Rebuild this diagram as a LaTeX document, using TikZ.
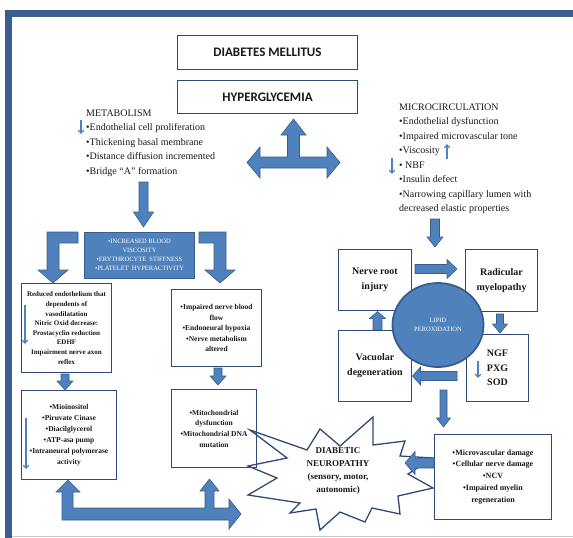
\documentclass[tikz,border=0pt]{standalone}
\usepackage{fontspec}
\setmainfont{Liberation Serif}
\newfontfamily\carlito{Carlito}
\usetikzlibrary{calc,arrows.meta,shapes.geometric}
\definecolor{boxc}{RGB}{47,74,120}
\definecolor{afill}{RGB}{79,129,189}
\definecolor{aedge}{RGB}{56,93,138}
\definecolor{framec}{RGB}{58,94,143}
\definecolor{txt}{RGB}{25,25,25}
\tikzset{
 box/.style={draw=boxc, line width=1.3pt, fill=white, inner sep=1pt, align=center, text=txt},
 titlebox/.style={box, font=\carlito\bfseries\fontsize{13}{15}\selectfont},
 smallbox/.style={box, font=\bfseries\fontsize{7.5}{10.6}\selectfont},
 midbox/.style={box, font=\bfseries\fontsize{10}{15}\selectfont},
 bluebox/.style={draw=aedge, fill=afill, line width=1pt, text=white, align=center, inner sep=1pt},
 blockarrow/.style={fill=afill, draw=aedge, line width=0.6pt, line join=miter},
 thinarrow/.style={draw=afill, line width=1.1pt, -{Straight Barb[length=3pt,width=5.5pt]}},
 plaintext/.style={inner sep=0pt, align=left, text=txt, font=\fontsize{10}{14.45}\selectfont},
}
\newcommand\barrow[5]{%
 \coordinate (bacA) at #1; \coordinate (bacB) at #2;
 \coordinate (bacC) at ($(bacB)!#5!(bacA)$);
 \filldraw[blockarrow] ($(bacA)!#3!90:(bacB)$) -- ($(bacC)!#3!90:(bacB)$) -- ($(bacC)!#4!90:(bacB)$) -- (bacB) -- ($(bacC)!#4!-90:(bacB)$) -- ($(bacC)!#3!-90:(bacB)$) -- ($(bacA)!#3!-90:(bacB)$) -- cycle;
}
\begin{document}
\begin{tikzpicture}[x=1pt,y=-1pt]
\useasboundingbox (0,0) rectangle (573,538);
% frame
\draw[framec, line width=7pt] (8.5,538) -- (8.5,13.5) -- (573,13.5);
\draw[gray!40, line width=1.5pt] (12,536.5) -- (573,536.5);

% title boxes
\node[titlebox, minimum width=180pt, minimum height=34pt] (dm) at (267.5,52.5) {DIABETES MELLITUS};
\node[titlebox, minimum width=180pt, minimum height=33pt] (hyp) at (267.5,97) {HYPERGLYCEMIA};

% text blocks
\node[plaintext, anchor=north west] (metab) at (86,109.5) {METABOLISM\\•Endothelial cell proliferation\\•Thickening basal membrane\\•Distance diffusion incremented\\•Bridge “A” formation};
\node[plaintext, anchor=north west] (micro) at (399,103.5) {MICROCIRCULATION\\•Endothelial dysfunction\\•Impaired microvascular tone\\•Viscosity\\• NBF\\•Insulin defect\\•Narrowing capillary lumen with\\decreased elastic properties};
\draw[thinarrow] (81,120) -- (81,134);
\draw[thinarrow] (447,159) -- (447,144);
\draw[thinarrow] (392,158) -- (392,174);

% T arrow
\filldraw[blockarrow] (293.5,119) -- (306,135) -- (299.5,135) -- (299.5,157) -- (327,157) -- (327,147) -- (340,162.5) -- (327,178) -- (327,168) -- (260,168) -- (260,178) -- (247,162.5) -- (260,147) -- (260,157) -- (287.5,157) -- (287.5,135) -- (281,135) -- cycle;

% metabolism down arrow
\barrow{(143.5,182)}{(143.5,227)}{4.5pt}{10pt}{15pt}

% central blue box
\node[bluebox, minimum width=110pt, minimum height=46pt, font=\fontsize{6.5}{9}\selectfont] (vis) at (139.5,255) {•INCREASED BLOOD\\VISCOSITY\\•ERYTHROCYTE\ \ STIFFNESS\\•PLATELET\ \ HYPERACTIVITY};

% bent arrows
\filldraw[blockarrow] (78,232) -- (47,232) -- (47,270) -- (38,270) -- (53,283) -- (68,270) -- (59,270) -- (59,243) -- (78,243) -- cycle;
\filldraw[blockarrow] (199,232) -- (226,232) -- (226,270) -- (235,270) -- (220,283) -- (205,270) -- (214,270) -- (214,243) -- (199,243) -- cycle;

% left column
\node[smallbox, minimum width=90pt, minimum height=89pt, font=\bfseries\fontsize{7}{9.6}\selectfont] (lb1) at (66.5,328) {Reduced endothelium that\\dependents of\\vasodilatation\\Nitric Oxid decrease:\\Prostacyclin reduction\\EDHF\\Impairment nerve axon\\reflex};
\draw[thinarrow] (25,305) -- (25,344);
\node[smallbox, minimum width=90pt, minimum height=77pt, font=\bfseries\fontsize{7.5}{10.5}\selectfont] (rb1) at (216.5,328) {•Impaired nerve blood\\flow\\•Endoneural hypoxia\\•Nerve metabolism\\altered};
\barrow{(65,374)}{(65,390)}{4pt}{8pt}{9pt}
\barrow{(218,368)}{(218,385)}{4pt}{8pt}{9pt}

% diabetic neuropathy star
\filldraw[fill=white, draw=boxc, line width=1.3pt, line join=miter] (250,430) -- (307,450) -- (320,429) -- (340,446) -- (373,417) -- (373,445) -- (405,441) -- (400,456) -- (433,458) -- (408,474) -- (433,488) -- (398,496) -- (400,514) -- (372,508) -- (365,522) -- (340,512) -- (320,530) -- (316,509) -- (290,513) -- (300,503) -- (248,495) -- (277,478) -- (248,466) -- (287,458) -- cycle;
\node[inner sep=0pt, align=center, text=txt, font=\bfseries\fontsize{9}{13}\selectfont] (dn) at (338,471) {DIABETIC\\NEUROPATHY\\(sensory, motor,\\autonomic)};

\node[smallbox, minimum width=95pt, minimum height=89pt, font=\bfseries\fontsize{7.5}{11}\selectfont] (lb2) at (69,435) {•Mioinositol\\•Piruvate Cinase\\•Diacilglycerol\\•ATP-asa pump\\•Intraneural polymerase\\activity};
\draw[thinarrow] (26,418) -- (26,469);
\node[smallbox, fill=none, minimum width=85pt, minimum height=78pt, font=\bfseries\fontsize{7.5}{10.7}\selectfont] (rb2) at (214,428.5) {•Mitochondrial\\dysfunction\\•Mitochondrial DNA\\mutation};

% bottom L arrow
\filldraw[blockarrow] (68,480) -- (80,492) -- (73,492) -- (73,508) -- (205,508) -- (205,491) -- (200,491) -- (209.5,479) -- (219,491) -- (214,491) -- (214,508) -- (229,508) -- (229,499) -- (241,514) -- (229,529) -- (229,520) -- (62,520) -- (62,492) -- (56,492) -- cycle;

% right cluster
\barrow{(435,219)}{(435,247)}{4.5pt}{8pt}{10pt}
\node[midbox, minimum width=73pt, minimum height=61pt] (nr) at (375,280) {Nerve root\\injury};
\node[midbox, minimum width=72pt, minimum height=62pt] (rm) at (501.5,280.5) {Radicular\\myelopathy};
\node[midbox, minimum width=73pt, minimum height=71pt] (vd) at (375,366) {Vacuolar\\degeneration};
\node[midbox, minimum width=62pt, minimum height=67pt, font=\bfseries\fontsize{10}{14.5}\selectfont] (ngf) at (497.5,368) {NGF\\PXG\\SOD};
\draw[thinarrow] (478,361) -- (478,378);
\node[ellipse, draw=aedge, fill=afill, line width=1.8pt, minimum width=91pt, minimum height=84pt, inner sep=0pt, align=center, text=white, font=\fontsize{6.5}{9}\selectfont] (lp) at (438,325) {LIPID\\PEROXIDATION};
\barrow{(415,269)}{(457,269)}{4.5pt}{9.5pt}{10pt}
\barrow{(500,314)}{(500,333)}{3.5pt}{7.5pt}{9pt}
\barrow{(377.5,330)}{(377.5,311.5)}{4.5pt}{8pt}{7pt}
\barrow{(457,376)}{(412.5,376)}{4.5pt}{9pt}{8pt}
\barrow{(443.5,390)}{(443.5,427)}{3.5pt}{7pt}{9pt}

\node[smallbox, minimum width=117pt, minimum height=85pt, font=\bfseries\fontsize{8}{11.9}\selectfont] (mv) at (493,477) {•Microvascular damage\\•Cellular nerve damage\\•NCV\\•Impaired myelin\\regeneration};
\barrow{(434,463)}{(405,463)}{5pt}{11.5pt}{10pt}
\end{tikzpicture}
\end{document}
